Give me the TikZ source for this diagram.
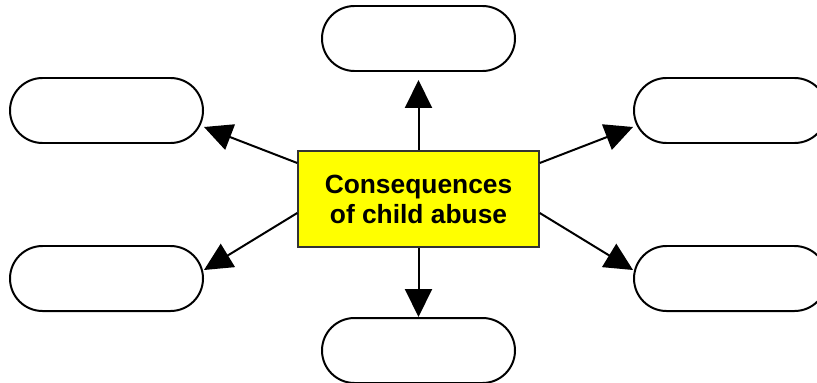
\documentclass[tikz,border=0pt]{standalone}
\usepackage{fontspec}
\setsansfont{Liberation Sans}
\usepackage{tikz}
\usetikzlibrary{arrows.meta,positioning,calc,shapes.misc}

\begin{document}
\begin{tikzpicture}[
  x=1cm,
  y=1cm,
  >={Triangle[length=0.84cm,width=0.81cm]},
  font=\sffamily,
  pill/.style={rounded rectangle,draw=black,line width=1.7pt,fill=white,
    minimum width=5.79cm,minimum height=1.95cm,inner sep=0pt},
  hub/.style={rectangle,draw=hubedge,line width=1.3pt,fill=hubyellow,
    minimum width=7.23cm,minimum height=2.88cm,align=center,
    font=\sffamily\bfseries\fontsize{22.5}{25.5}\selectfont},
  flow/.style={->,line width=1.7pt,draw=black}
]
  \definecolor{hubyellow}{HTML}{FFFF00}
  \definecolor{hubedge}{HTML}{333333}

  \clip (0,0) rectangle (24.51,-11.46);
  \fill[white] (0,0) rectangle (24.51,-11.46);

  \node[hub] (cons) at (12.555,-5.97) {Consequences\\of child abuse};

  \node[pill] (top) at (12.555,-1.155) {};
  \node[pill] (bottom) at (12.555,-10.515) {};
  \node[pill] (lefttop) at (3.195,-3.315) {};
  \node[pill] (leftbottom) at (3.195,-8.355) {};
  \node[pill] (righttop) at (21.915,-3.315) {};
  \node[pill] (rightbottom) at (21.915,-8.355) {};

  \draw[flow,shorten >=0.24cm] (cons.north) -- (top.south);
  \draw[flow] (cons.south) -- (bottom.north);
  \draw[flow] ($(cons.west)+(0,1.08)$) -- ($(lefttop.east)+(0,-0.495)$);
  \draw[flow] ($(cons.west)+(0,-0.42)$) -- ($(leftbottom.east)+(0,0.255)$);
  \draw[flow] ($(cons.east)+(0,1.08)$) -- ($(righttop.west)+(0,-0.495)$);
  \draw[flow] ($(cons.east)+(0,-0.42)$) -- ($(rightbottom.west)+(0,0.255)$);
\end{tikzpicture}
\end{document}
